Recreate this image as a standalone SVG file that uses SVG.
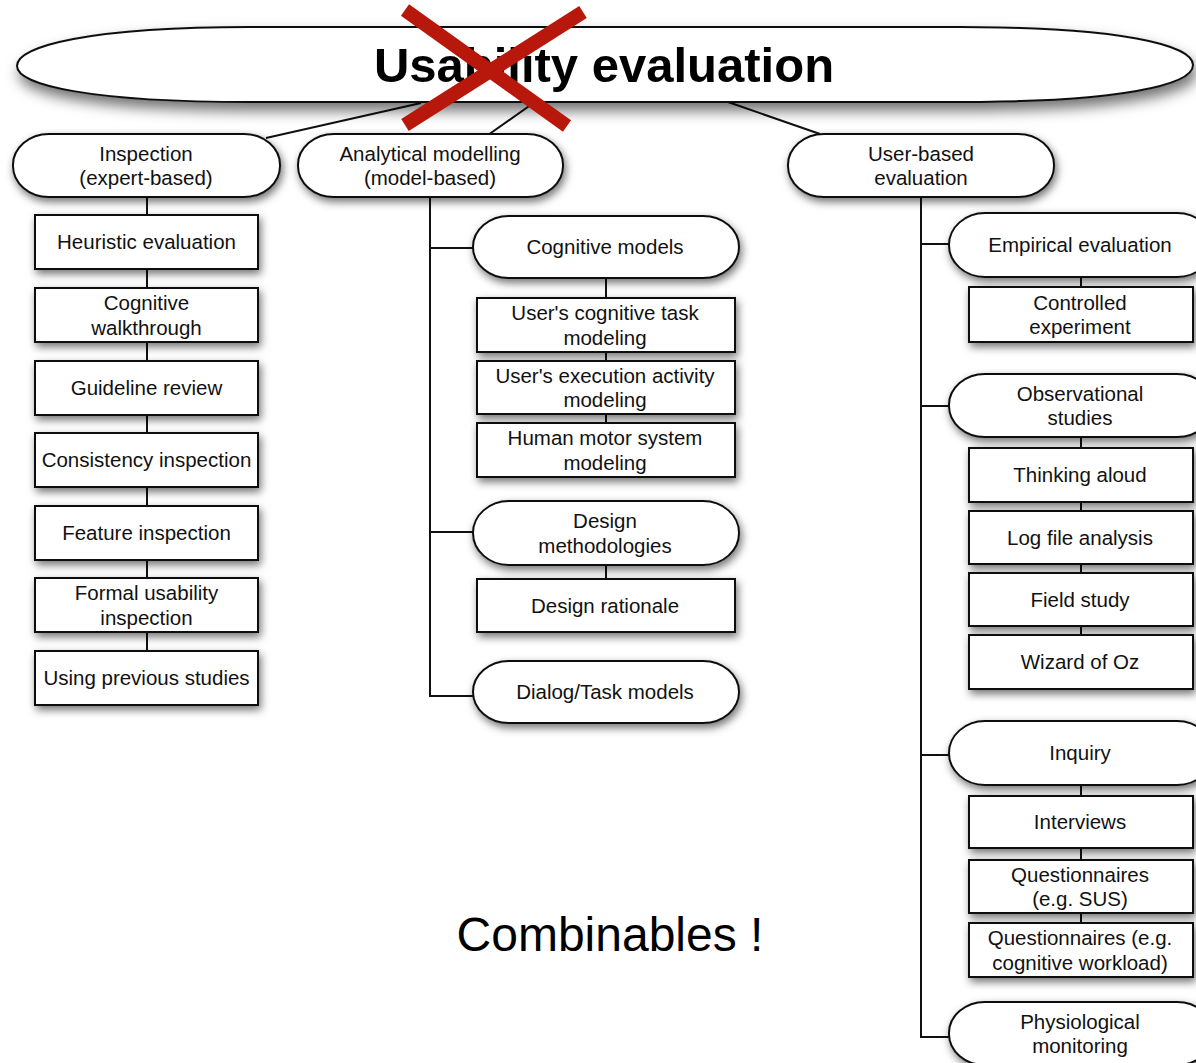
<svg xmlns="http://www.w3.org/2000/svg" width="1196" height="1063" viewBox="0 0 1196 1063">
<style>
.n{fill:#fff;stroke:#111;stroke-width:2}
.t{font-family:"Liberation Sans",Arial,sans-serif;font-size:20.5px;fill:#111;text-anchor:middle}
.c{stroke:#111;stroke-width:2;fill:none}
</style>
<defs>
<filter id="sh" x="-20%" y="-30%" width="140%" height="170%">
<feDropShadow dx="2" dy="4" stdDeviation="4" flood-color="#000" flood-opacity="0.55"/>
</filter>
<filter id="shb" x="-10%" y="-40%" width="120%" height="200%">
<feDropShadow dx="3" dy="8" stdDeviation="7" flood-color="#000" flood-opacity="0.55"/>
</filter>
</defs>
<rect width="1196" height="1063" fill="#fff"/>
<g id="connectors">
<line class="c" x1="421" y1="103" x2="266" y2="138"/>
<line class="c" x1="532" y1="104" x2="488" y2="135"/>
<line class="c" x1="728" y1="102" x2="820" y2="134"/>
<line class="c" x1="147" y1="197" x2="147" y2="652"/>
<polyline class="c" points="430,197 430,696 473,696"/>
<line class="c" x1="430" y1="248" x2="473" y2="248"/>
<line class="c" x1="430" y1="532" x2="473" y2="532"/>
<line class="c" x1="606" y1="278" x2="606" y2="423"/>
<line class="c" x1="606" y1="565" x2="606" y2="579"/>
<polyline class="c" points="921,197 921,1037 949,1037"/>
<line class="c" x1="921" y1="244" x2="949" y2="244"/>
<line class="c" x1="921" y1="406" x2="949" y2="406"/>
<line class="c" x1="921" y1="755" x2="949" y2="755"/>
<line class="c" x1="1081" y1="277" x2="1081" y2="287"/>
<line class="c" x1="1081" y1="437" x2="1081" y2="635"/>
<line class="c" x1="1081" y1="785" x2="1081" y2="923"/>
</g>
<g id="root">
<path class="n" filter="url(#shb)" d="M250,27 H960 C1120,27 1193,45 1193,65 C1193,85 1120,102 960,102 H250 C90,102 17,85 17,66 C17,46 90,27 250,27 Z"/>
<text x="604" y="82" style="font-family:'Liberation Sans',Arial,sans-serif;font-size:49px;font-weight:bold;fill:#000;text-anchor:middle">Usability evaluation</text>
</g>
<g id="cross">
<line x1="405" y1="10" x2="567" y2="126" stroke="#b8170c" stroke-width="14"/>
<line x1="583" y1="12" x2="405" y2="125" stroke="#b8170c" stroke-width="14"/>
</g>
<g id="inspection"><rect class="n" filter="url(#sh)" x="13" y="134" width="267" height="63" rx="36" ry="31"/><text class="t" x="146" y="160.5">Inspection</text><text class="t" x="146" y="185">(expert-based)</text></g>
<g id="analytical"><rect class="n" filter="url(#sh)" x="298" y="134" width="265" height="63" rx="36" ry="31"/><text class="t" x="430" y="160.5">Analytical modelling</text><text class="t" x="430" y="185">(model-based)</text></g>
<g id="userbased"><rect class="n" filter="url(#sh)" x="788" y="134" width="266" height="63" rx="36" ry="31"/><text class="t" x="921" y="160.5">User-based</text><text class="t" x="921" y="185">evaluation</text></g>

<g id="heuristic"><rect class="n" filter="url(#sh)" x="35" y="215" width="223" height="54"/><text class="t" x="146.5" y="249">Heuristic evaluation</text></g>
<g id="walkthrough"><rect class="n" filter="url(#sh)" x="35" y="288" width="223" height="54"/><text class="t" x="146.5" y="310">Cognitive</text><text class="t" x="146.5" y="334.5">walkthrough</text></g>
<g id="guideline"><rect class="n" filter="url(#sh)" x="35" y="361" width="223" height="54"/><text class="t" x="146.5" y="395">Guideline review</text></g>
<g id="consistency"><rect class="n" filter="url(#sh)" x="35" y="433" width="223" height="54"/><text class="t" x="146.5" y="467">Consistency inspection</text></g>
<g id="feature"><rect class="n" filter="url(#sh)" x="35" y="506" width="223" height="54"/><text class="t" x="146.5" y="540">Feature inspection</text></g>
<g id="formal"><rect class="n" filter="url(#sh)" x="35" y="578" width="223" height="54"/><text class="t" x="146.5" y="600">Formal usability</text><text class="t" x="146.5" y="624.5">inspection</text></g>
<g id="previous"><rect class="n" filter="url(#sh)" x="35" y="651" width="223" height="54"/><text class="t" x="146.5" y="685">Using previous studies</text></g>

<g id="cogmodels"><rect class="n" filter="url(#sh)" x="473" y="216" width="266" height="62" rx="36" ry="31"/><text class="t" x="605" y="254">Cognitive models</text></g>
<g id="cogtask"><rect class="n" filter="url(#sh)" x="477" y="298" width="258" height="54"/><text class="t" x="605" y="320">User's cognitive task</text><text class="t" x="605" y="344.5">modeling</text></g>
<g id="execution"><rect class="n" filter="url(#sh)" x="477" y="361" width="258" height="53"/><text class="t" x="605" y="382.5">User's execution activity</text><text class="t" x="605" y="407">modeling</text></g>
<g id="motor"><rect class="n" filter="url(#sh)" x="477" y="423" width="258" height="54"/><text class="t" x="605" y="445">Human motor system</text><text class="t" x="605" y="469.5">modeling</text></g>
<g id="designmeth"><rect class="n" filter="url(#sh)" x="473" y="501" width="266" height="64" rx="36" ry="32"/><text class="t" x="605" y="528">Design</text><text class="t" x="605" y="552.5">methodologies</text></g>
<g id="rationale"><rect class="n" filter="url(#sh)" x="477" y="579" width="258" height="53"/><text class="t" x="605" y="612.5">Design rationale</text></g>
<g id="dialog"><rect class="n" filter="url(#sh)" x="473" y="661" width="266" height="62" rx="36" ry="31"/><text class="t" x="605" y="699">Dialog/Task models</text></g>

<g id="empirical"><rect class="n" filter="url(#sh)" x="949" y="213" width="264" height="64" rx="36" ry="32"/><text class="t" x="1080" y="252">Empirical evaluation</text></g>
<g id="controlled"><rect class="n" filter="url(#sh)" x="969" y="287" width="224" height="55"/><text class="t" x="1080" y="309.5">Controlled</text><text class="t" x="1080" y="334">experiment</text></g>
<g id="observational"><rect class="n" filter="url(#sh)" x="949" y="374" width="264" height="63" rx="36" ry="31"/><text class="t" x="1080" y="400.5">Observational</text><text class="t" x="1080" y="425">studies</text></g>
<g id="thinking"><rect class="n" filter="url(#sh)" x="969" y="448" width="224" height="54"/><text class="t" x="1080" y="482">Thinking aloud</text></g>
<g id="logfile"><rect class="n" filter="url(#sh)" x="969" y="511" width="224" height="53"/><text class="t" x="1080" y="544.5">Log file analysis</text></g>
<g id="field"><rect class="n" filter="url(#sh)" x="969" y="573" width="224" height="53"/><text class="t" x="1080" y="606.5">Field study</text></g>
<g id="wizard"><rect class="n" filter="url(#sh)" x="969" y="635" width="224" height="54"/><text class="t" x="1080" y="669">Wizard of Oz</text></g>
<g id="inquiry"><rect class="n" filter="url(#sh)" x="949" y="721" width="264" height="64" rx="36" ry="32"/><text class="t" x="1080" y="760">Inquiry</text></g>
<g id="interviews"><rect class="n" filter="url(#sh)" x="969" y="796" width="224" height="52"/><text class="t" x="1080" y="829">Interviews</text></g>
<g id="qsus"><rect class="n" filter="url(#sh)" x="969" y="860" width="224" height="53"/><text class="t" x="1080" y="881.5">Questionnaires</text><text class="t" x="1080" y="906">(e.g. SUS)</text></g>
<g id="qworkload"><rect class="n" filter="url(#sh)" x="969" y="923" width="224" height="54"/><text class="t" x="1080" y="945">Questionnaires (e.g.</text><text class="t" x="1080" y="969.5">cognitive workload)</text></g>
<g id="physio"><rect class="n" filter="url(#sh)" x="949" y="1002" width="264" height="63" rx="36" ry="31"/><text class="t" x="1080" y="1028.5">Physiological</text><text class="t" x="1080" y="1053">monitoring</text></g>

<text x="610" y="951" style="font-family:'Liberation Sans',Arial,sans-serif;font-size:48px;fill:#000;text-anchor:middle">Combinables !</text>
</svg>
